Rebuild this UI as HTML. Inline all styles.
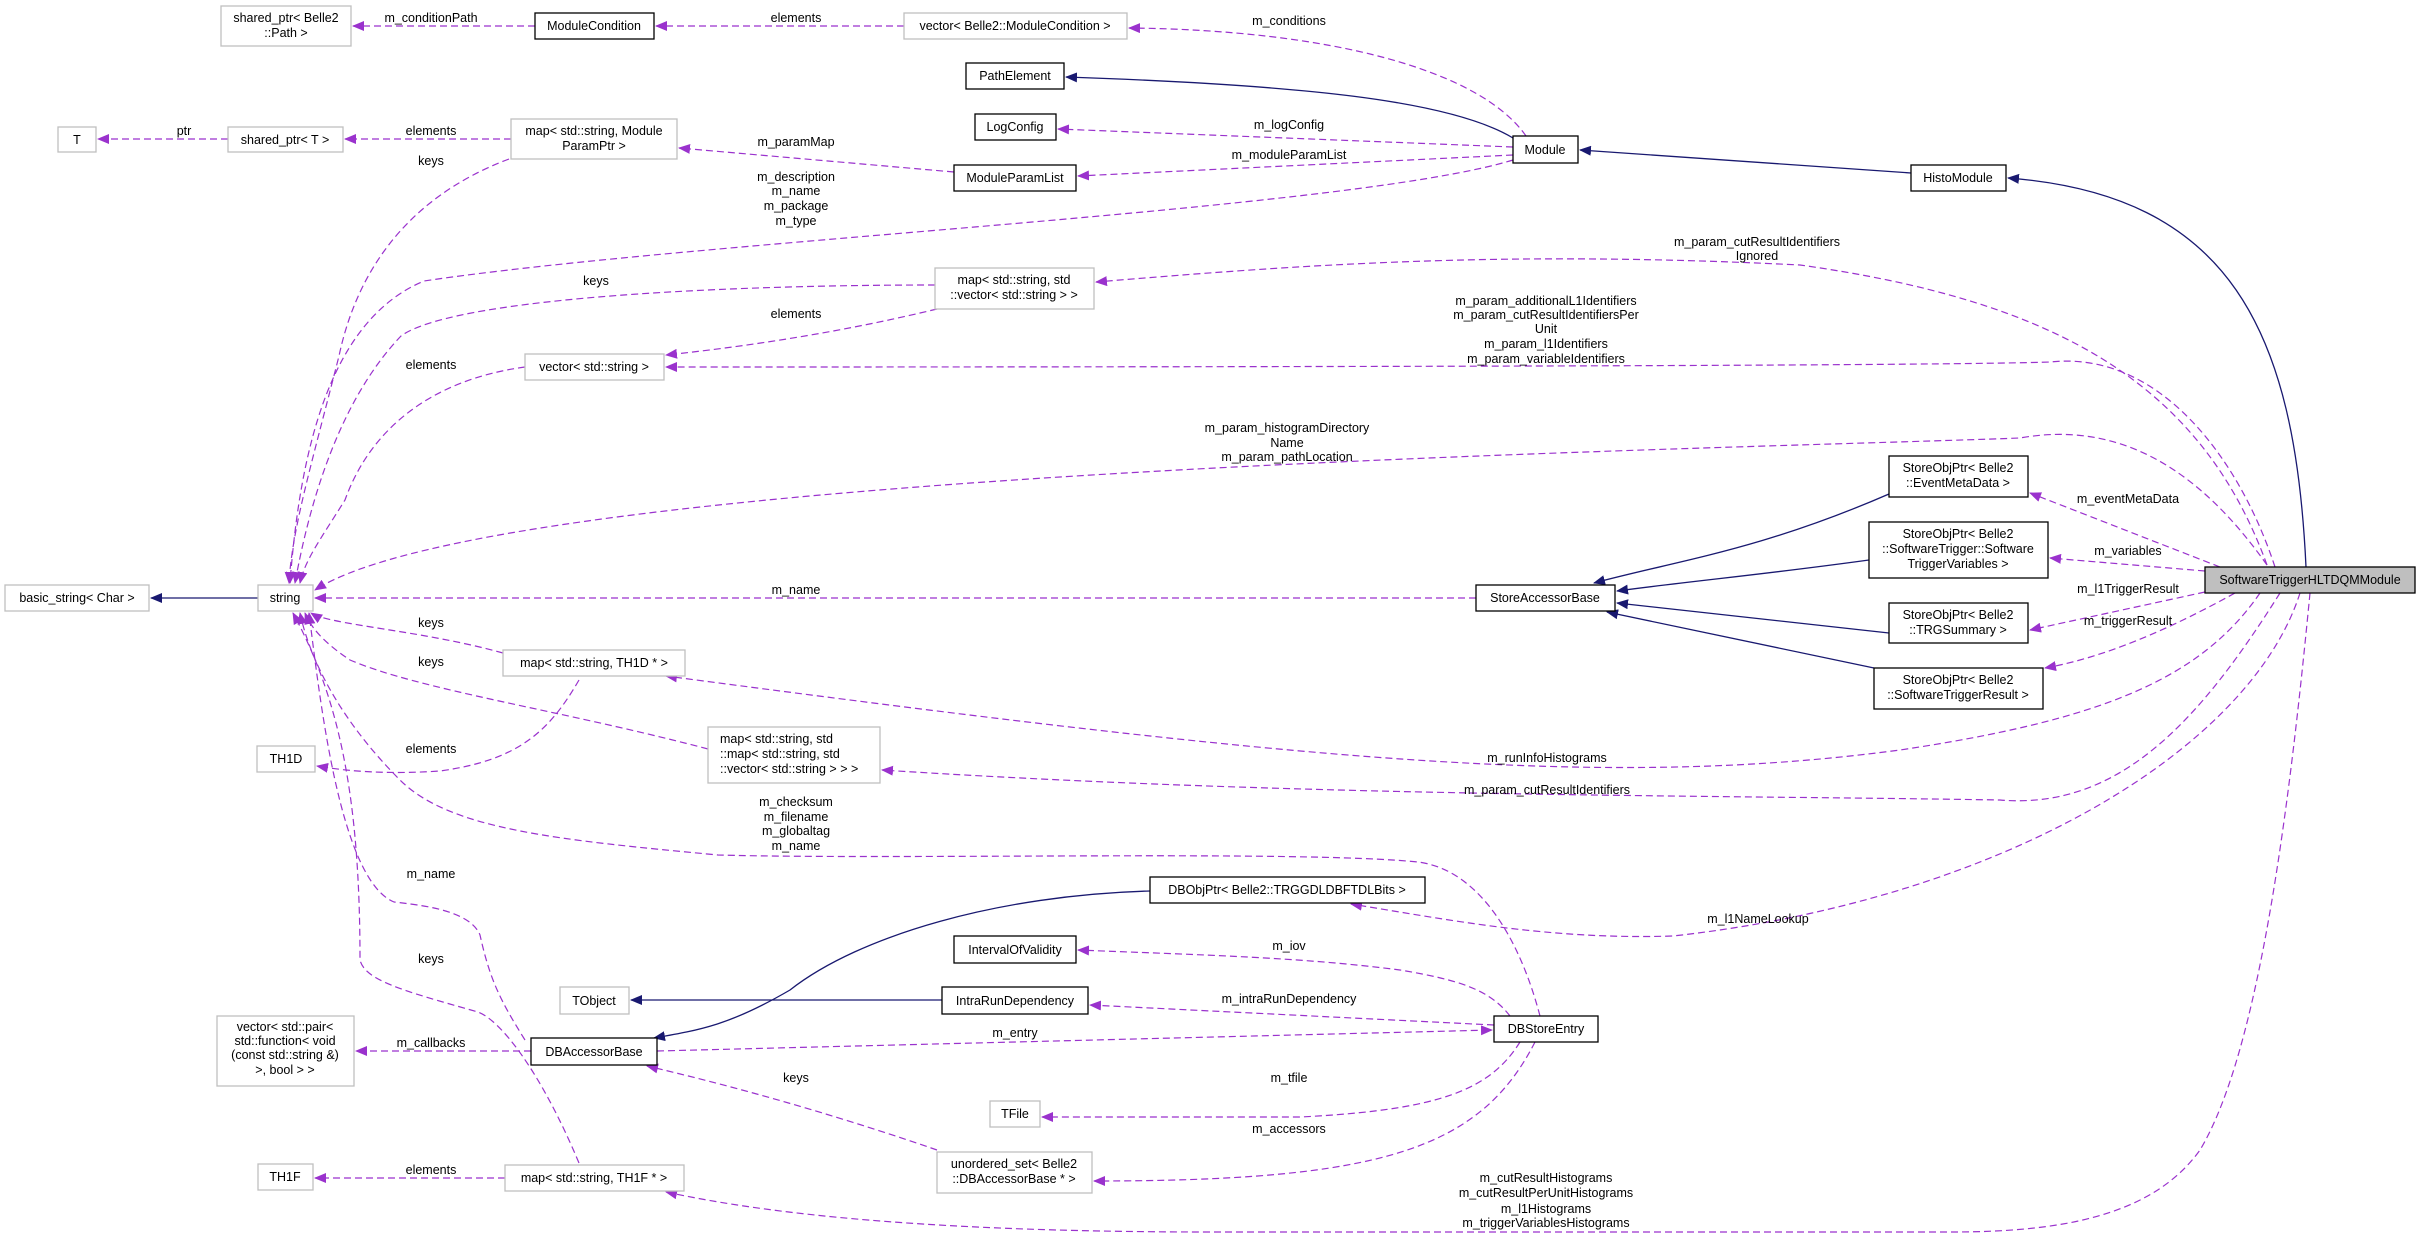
<!DOCTYPE html>
<html><head><meta charset="utf-8"><style>
html,body{margin:0;padding:0;background:#fff}
svg{display:block}
text{font-family:"Liberation Sans",sans-serif;font-size:12.5px;fill:#000}
.n{fill:#fff;stroke:#bfbfbf;stroke-width:1.3}
.d{fill:#fff;stroke:#000;stroke-width:1.3}
.p{fill:none;stroke:#9a32cd;stroke-width:1.2;stroke-dasharray:7,4}
.b{fill:none;stroke:#191970;stroke-width:1.3}
</style></head><body>
<svg width="2420" height="1237" viewBox="0 0 2420 1237" xmlns="http://www.w3.org/2000/svg">
<defs>
<marker id="ap" markerWidth="12" markerHeight="10" refX="11" refY="5" orient="auto" markerUnits="userSpaceOnUse"><path d="M0,0 L12,5 L0,10 z" fill="#9a32cd"/></marker>
<marker id="ab" markerWidth="12" markerHeight="10" refX="11" refY="5" orient="auto" markerUnits="userSpaceOnUse"><path d="M0,0 L12,5 L0,10 z" fill="#191970"/></marker>
</defs>

<!-- navy edges -->
<g class="b" marker-end="url(#ab)">
<path d="M2306,567 C2295,330 2230,195 2008,178"/>
<path d="M1911,173 L1580,150"/>
<path d="M1513,138 C1450,100 1300,85 1066,77"/>
<path d="M1889,494 C1760,550 1680,560 1594,583"/>
<path d="M1869,560 C1760,575 1700,580 1617,591"/>
<path d="M1889,633 L1617,603"/>
<path d="M1874,668 L1607,612"/>
<path d="M258,598 L151,598"/>
<path d="M942,1000 L631,1000"/>
<path d="M1150,891 C1000,895 860,935 790,990 C730,1025 700,1030 654,1038"/>
</g>

<!-- purple edges -->
<g class="p" marker-end="url(#ap)">
<path d="M535,26 L353,26"/>
<path d="M904,26 L656,26"/>
<path d="M1526,136 C1480,70 1330,30 1129,28"/>
<path d="M1513,147 L1058,129"/>
<path d="M1513,155 L1078,176"/>
<path d="M1513,160 C1350,210 700,240 424,281 C330,320 300,450 290,583"/>
<path d="M954,172 L679,148"/>
<path d="M511,139 L345,139"/>
<path d="M228,139 L98,139"/>
<path d="M509,159 C400,200 355,280 339,356 C310,470 292,530 289,583"/>
<path d="M935,285 C700,285 450,300 401,336 C340,400 310,500 295,583"/>
<path d="M937,309 C850,330 760,345 666,355"/>
<path d="M525,367 C430,380 370,430 345,500 C320,540 305,560 300,583"/>
<path d="M2267,565 C2200,380 2050,300 1800,265 C1500,250 1300,265 1096,282"/>
<path d="M2275,567 C2240,460 2160,350 2050,362 C1900,367 900,367 666,367"/>
<path d="M2267,565 C2200,470 2120,420 2020,438 C1700,450 500,470 315,590"/>
<path d="M2220,567 L2030,493"/>
<path d="M2205,571 L2050,558"/>
<path d="M2205,592 L2030,630"/>
<path d="M2235,593 C2150,640 2090,660 2045,668"/>
<path d="M1476,598 L315,598"/>
<path d="M2260,593 C2200,680 2100,720 1900,750 C1600,790 1300,760 666,676"/>
<path d="M2280,593 C2200,720 2120,810 2000,800 C1700,795 1300,797 882,770"/>
<path d="M503,653 C420,630 330,625 311,613"/>
<path d="M579,680 C550,730 520,760 440,771 C380,775 340,770 317,766"/>
<path d="M708,749 C560,710 420,690 350,660 C320,640 310,625 305,613"/>
<path d="M1540,1016 C1520,940 1480,870 1418,862 C1300,850 900,860 718,855 C560,840 450,830 400,780 C340,720 310,660 300,613"/>
<path d="M2300,593 C2250,750 2000,900 1673,936 C1550,940 1450,920 1351,904"/>
<path d="M1510,1016 C1490,990 1460,980 1400,970 C1300,957 1200,955 1078,950"/>
<path d="M1494,1025 L1090,1005"/>
<path d="M657,1051 L1492,1030"/>
<path d="M1520,1042 C1490,1090 1440,1110 1300,1117 L1042,1117"/>
<path d="M1535,1042 C1480,1150 1380,1181 1094,1181"/>
<path d="M937,1150 C850,1120 750,1090 647,1066"/>
<path d="M531,1051 L356,1051"/>
<path d="M525,1040 C500,1000 490,980 480,935 C470,910 420,905 394,902 C340,880 320,700 309,613"/>
<path d="M579,1163 C540,1070 500,1020 478,1012 C400,990 365,980 360,960 C360,800 340,700 293,613"/>
<path d="M505,1178 L315,1178"/>
<path d="M2310,593 C2290,800 2260,1050 2200,1150 C2150,1220 2050,1232 1950,1232 L1210,1232 C900,1232 750,1210 666,1192"/>
</g>

<!-- nodes -->
<g>
<rect class="n" x="221" y="6" width="130" height="40"/><text x="286" y="22" text-anchor="middle">shared_ptr&lt; Belle2</text><text x="286" y="37" text-anchor="middle">::Path &gt;</text>
<rect class="d" x="535" y="13" width="119" height="26"/><text x="594" y="30" text-anchor="middle">ModuleCondition</text>
<rect class="n" x="904" y="13" width="223" height="26"/><text x="1015" y="30" text-anchor="middle">vector&lt; Belle2::ModuleCondition &gt;</text>
<rect class="d" x="966" y="63" width="98" height="26"/><text x="1015" y="80" text-anchor="middle">PathElement</text>
<rect class="d" x="975" y="114" width="81" height="26"/><text x="1015" y="131" text-anchor="middle">LogConfig</text>
<rect class="n" x="58" y="127" width="38" height="25"/><text x="77" y="144" text-anchor="middle">T</text>
<rect class="n" x="228" y="127" width="115" height="25"/><text x="285" y="144" text-anchor="middle">shared_ptr&lt; T &gt;</text>
<rect class="n" x="511" y="119" width="166" height="40"/><text x="594" y="135" text-anchor="middle">map&lt; std::string, Module</text><text x="594" y="150" text-anchor="middle">ParamPtr &gt;</text>
<rect class="d" x="954" y="165" width="122" height="26"/><text x="1015" y="182" text-anchor="middle">ModuleParamList</text>
<rect class="d" x="1513" y="136" width="65" height="27"/><text x="1545" y="154" text-anchor="middle">Module</text>
<rect class="d" x="1911" y="165" width="95" height="26"/><text x="1958" y="182" text-anchor="middle">HistoModule</text>
<rect class="n" x="935" y="268" width="159" height="41"/><text x="1014" y="284" text-anchor="middle">map&lt; std::string, std</text><text x="1014" y="299" text-anchor="middle">::vector&lt; std::string &gt; &gt;</text>
<rect class="n" x="525" y="354" width="139" height="26"/><text x="594" y="371" text-anchor="middle">vector&lt; std::string &gt;</text>
<rect class="d" x="1889" y="456" width="139" height="41"/><text x="1958" y="472" text-anchor="middle">StoreObjPtr&lt; Belle2</text><text x="1958" y="487" text-anchor="middle">::EventMetaData &gt;</text>
<rect class="d" x="1869" y="522" width="179" height="56"/><text x="1958" y="538" text-anchor="middle">StoreObjPtr&lt; Belle2</text><text x="1958" y="553" text-anchor="middle">::SoftwareTrigger::Software</text><text x="1958" y="568" text-anchor="middle">TriggerVariables &gt;</text>
<rect x="2205" y="567" width="210" height="26" fill="#bfbfbf" stroke="#000" stroke-width="1.3"/><text x="2310" y="584" text-anchor="middle">SoftwareTriggerHLTDQMModule</text>
<rect class="n" x="5" y="585" width="144" height="26"/><text x="77" y="602" text-anchor="middle">basic_string&lt; Char &gt;</text>
<rect class="n" x="258" y="585" width="55" height="26"/><text x="285" y="602" text-anchor="middle">string</text>
<rect class="d" x="1476" y="585" width="139" height="26"/><text x="1545" y="602" text-anchor="middle">StoreAccessorBase</text>
<rect class="d" x="1889" y="603" width="139" height="40"/><text x="1958" y="619" text-anchor="middle">StoreObjPtr&lt; Belle2</text><text x="1958" y="634" text-anchor="middle">::TRGSummary &gt;</text>
<rect class="d" x="1874" y="668" width="169" height="41"/><text x="1958" y="684" text-anchor="middle">StoreObjPtr&lt; Belle2</text><text x="1958" y="699" text-anchor="middle">::SoftwareTriggerResult &gt;</text>
<rect class="n" x="503" y="650" width="182" height="26"/><text x="594" y="667" text-anchor="middle">map&lt; std::string, TH1D * &gt;</text>
<rect class="n" x="257" y="746" width="58" height="26"/><text x="286" y="763" text-anchor="middle">TH1D</text>
<rect class="n" x="708" y="727" width="172" height="56"/><text x="720" y="743">map&lt; std::string, std</text><text x="720" y="758">::map&lt; std::string, std</text><text x="720" y="773">::vector&lt; std::string &gt; &gt; &gt;</text>
<rect class="d" x="1150" y="877" width="275" height="26"/><text x="1287" y="894" text-anchor="middle">DBObjPtr&lt; Belle2::TRGGDLDBFTDLBits &gt;</text>
<rect class="d" x="954" y="936" width="122" height="27"/><text x="1015" y="954" text-anchor="middle">IntervalOfValidity</text>
<rect class="n" x="560" y="987" width="69" height="27"/><text x="594" y="1005" text-anchor="middle">TObject</text>
<rect class="d" x="942" y="987" width="146" height="27"/><text x="1015" y="1005" text-anchor="middle">IntraRunDependency</text>
<rect class="n" x="217" y="1016" width="137" height="70"/><text x="285" y="1031" text-anchor="middle">vector&lt; std::pair&lt;</text><text x="285" y="1045" text-anchor="middle">std::function&lt; void</text><text x="285" y="1059" text-anchor="middle">(const std::string &amp;)</text><text x="285" y="1074" text-anchor="middle">&gt;, bool &gt; &gt;</text>
<rect class="d" x="531" y="1038" width="126" height="27"/><text x="594" y="1056" text-anchor="middle">DBAccessorBase</text>
<rect class="d" x="1494" y="1016" width="104" height="26"/><text x="1546" y="1033" text-anchor="middle">DBStoreEntry</text>
<rect class="n" x="990" y="1101" width="50" height="26"/><text x="1015" y="1118" text-anchor="middle">TFile</text>
<rect class="n" x="937" y="1152" width="155" height="41"/><text x="1014" y="1168" text-anchor="middle">unordered_set&lt; Belle2</text><text x="1014" y="1183" text-anchor="middle">::DBAccessorBase * &gt;</text>
<rect class="n" x="258" y="1164" width="55" height="26"/><text x="285" y="1181" text-anchor="middle">TH1F</text>
<rect class="n" x="505" y="1165" width="179" height="26"/><text x="594" y="1182" text-anchor="middle">map&lt; std::string, TH1F * &gt;</text>
</g>

<!-- edge labels -->
<g text-anchor="middle">
<text x="431" y="22">m_conditionPath</text>
<text x="796" y="22">elements</text>
<text x="184" y="135">ptr</text>
<text x="431" y="135">elements</text>
<text x="431" y="165">keys</text>
<text x="796" y="146">m_paramMap</text>
<text x="796" y="181">m_description</text><text x="796" y="195">m_name</text><text x="796" y="210">m_package</text><text x="796" y="225">m_type</text>
<text x="596" y="285">keys</text>
<text x="796" y="318">elements</text>
<text x="431" y="369">elements</text>
<text x="796" y="594">m_name</text>
<text x="1289" y="25">m_conditions</text>
<text x="1289" y="129">m_logConfig</text>
<text x="1289" y="159">m_moduleParamList</text>
<text x="1757" y="246">m_param_cutResultIdentifiers</text><text x="1757" y="260">Ignored</text>
<text x="1546" y="305">m_param_additionalL1Identifiers</text><text x="1546" y="319">m_param_cutResultIdentifiersPer</text><text x="1546" y="333">Unit</text><text x="1546" y="348">m_param_l1Identifiers</text><text x="1546" y="363">m_param_variableIdentifiers</text>
<text x="1287" y="432">m_param_histogramDirectory</text><text x="1287" y="447">Name</text><text x="1287" y="461">m_param_pathLocation</text>
<text x="2128" y="503">m_eventMetaData</text>
<text x="2128" y="555">m_variables</text>
<text x="2128" y="593">m_l1TriggerResult</text>
<text x="2128" y="625">m_triggerResult</text>
<text x="1547" y="762">m_runInfoHistograms</text>
<text x="1547" y="794">m_param_cutResultIdentifiers</text>
<text x="1758" y="923">m_l1NameLookup</text>
<text x="1289" y="950">m_iov</text>
<text x="1289" y="1003">m_intraRunDependency</text>
<text x="1289" y="1082">m_tfile</text>
<text x="1289" y="1133">m_accessors</text>
<text x="1546" y="1182">m_cutResultHistograms</text><text x="1546" y="1197">m_cutResultPerUnitHistograms</text><text x="1546" y="1213">m_l1Histograms</text><text x="1546" y="1227">m_triggerVariablesHistograms</text>
<text x="431" y="627">keys</text>
<text x="431" y="666">keys</text>
<text x="431" y="753">elements</text>
<text x="796" y="806">m_checksum</text><text x="796" y="821">m_filename</text><text x="796" y="835">m_globaltag</text><text x="796" y="850">m_name</text>
<text x="431" y="878">m_name</text>
<text x="431" y="963">keys</text>
<text x="1015" y="1037">m_entry</text>
<text x="431" y="1047">m_callbacks</text>
<text x="796" y="1082">keys</text>
<text x="431" y="1174">elements</text>
</g>
</svg>
</body></html>
